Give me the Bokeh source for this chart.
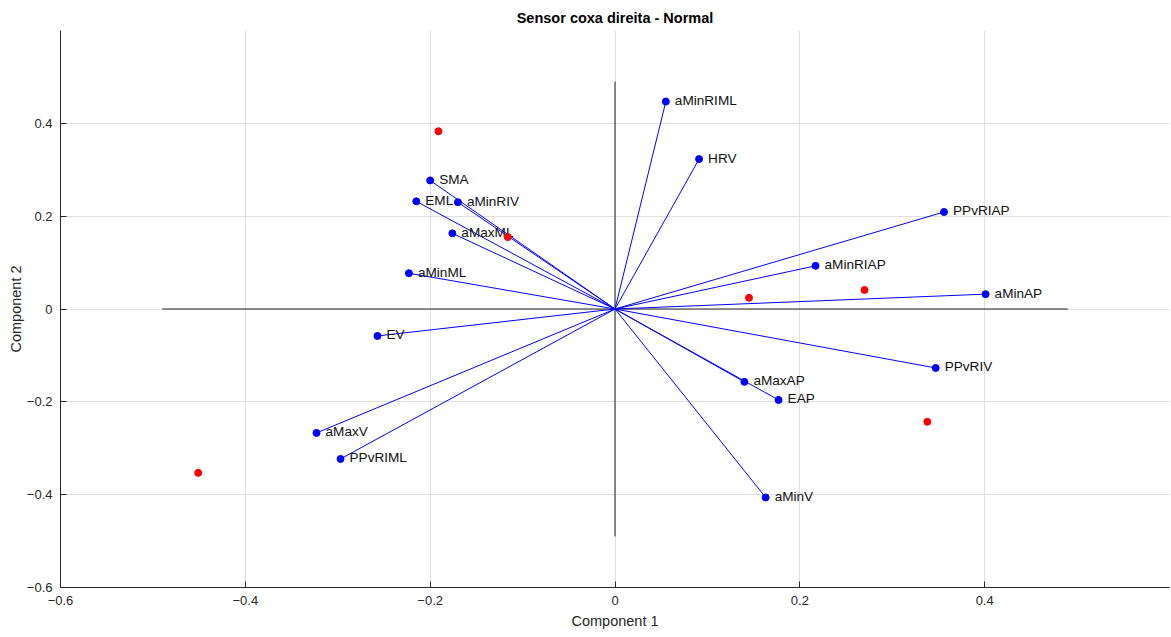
from bokeh.plotting import figure
from bokeh.models import Range1d, FixedTicker, ColumnDataSource
from bokeh.core.properties import value
from bokeh.embed import file_html
from bokeh.resources import INLINE

# Variable loadings (Component 1, Component 2)
names = ["aMinRIML", "HRV", "PPvRIAP", "aMinRIAP", "aMinAP", "PPvRIV", "aMaxAP",
         "EAP", "aMinV", "SMA", "EML", "aMinRIV", "aMaxML", "aMinML", "EV",
         "aMaxV", "PPvRIML"]
comp1 = [0.055, 0.091, 0.356, 0.217, 0.401, 0.347, 0.140,
         0.177, 0.163, -0.200, -0.215, -0.170, -0.176, -0.223, -0.257,
         -0.323, -0.297]
comp2 = [0.447, 0.323, 0.209, 0.093, 0.032, -0.127, -0.157,
         -0.196, -0.406, 0.277, 0.232, 0.230, 0.163, 0.077, -0.058,
         -0.267, -0.323]

# Observation scores
score1 = [-0.191, -0.116, 0.145, 0.270, 0.338, -0.451]
score2 = [0.383, 0.155, 0.024, 0.041, -0.243, -0.353]

x_ticks = [-0.6, -0.4, -0.2, 0, 0.2, 0.4]
y_ticks = [-0.6, -0.4, -0.2, 0, 0.2, 0.4]
axis_extent = 0.49

FONT = "Liberation Sans"
DARK = "#262626"

p = figure(width=1171, height=637, output_backend="svg", toolbar_location=None,
           x_range=Range1d(-0.6, 0.6), y_range=Range1d(-0.6, 0.6),
           min_border_left=60, min_border_right=2, min_border_top=30,
           min_border_bottom=50, title="Sensor coxa direita - Normal")
p.outline_line_color = None
p.background_fill_color = "white"
p.border_fill_color = "white"

p.title.align = "center"
p.title.text_font = FONT
p.title.text_font_size = "14.5px"
p.title.text_font_style = "bold"
p.title.text_color = "#000000"

p.xaxis.ticker = FixedTicker(ticks=x_ticks)
p.yaxis.ticker = FixedTicker(ticks=y_ticks)
p.xaxis.axis_label = "Component 1"
p.yaxis.axis_label = "Component 2"
for ax in (p.xaxis, p.yaxis):
    ax.axis_line_color = DARK
    ax.major_tick_line_color = DARK
    ax.major_tick_out = 0
    ax.major_tick_in = 6
    ax.minor_tick_line_color = None
    ax.major_label_text_font = FONT
    ax.major_label_text_font_size = "13px"
    ax.major_label_text_color = DARK
    ax.axis_label_text_font = FONT
    ax.axis_label_text_font_size = "14.5px"
    ax.axis_label_text_font_style = "normal"
    ax.axis_label_text_color = DARK
    ax.major_label_standoff = 8
p.xaxis.axis_label_standoff = 5
p.yaxis.axis_label_standoff = 0

p.xgrid.ticker = FixedTicker(ticks=x_ticks)
p.ygrid.ticker = FixedTicker(ticks=y_ticks)
p.grid.grid_line_color = "#dfdfdf"

# internal axes lines
p.line([-axis_extent, axis_extent], [0, 0], line_color="#222222", line_width=1)
p.line([0, 0], [-axis_extent, axis_extent], line_color="#222222", line_width=1)

src = ColumnDataSource(dict(name=names, x=comp1, y=comp2,
                            x0=[0] * len(names), y0=[0] * len(names)))
p.segment(x0="x0", y0="y0", x1="x", y1="y", source=src, line_color="#0000ff", line_width=1)
p.scatter(x="x", y="y", source=src, size=7, fill_color="#0000ff", line_color="#0000ff")
p.text(x="x", y="y", text="name", source=src, x_offset=9, y_offset=-1,
       text_baseline="middle", text_align="left", text_font=value(FONT),
       text_font_size="13.6px", text_color="#111111")

p.scatter(x=score1, y=score2, size=7, fill_color="#ff0000", line_color="#ff0000")

open("out.html", "w").write(file_html(p, INLINE))
